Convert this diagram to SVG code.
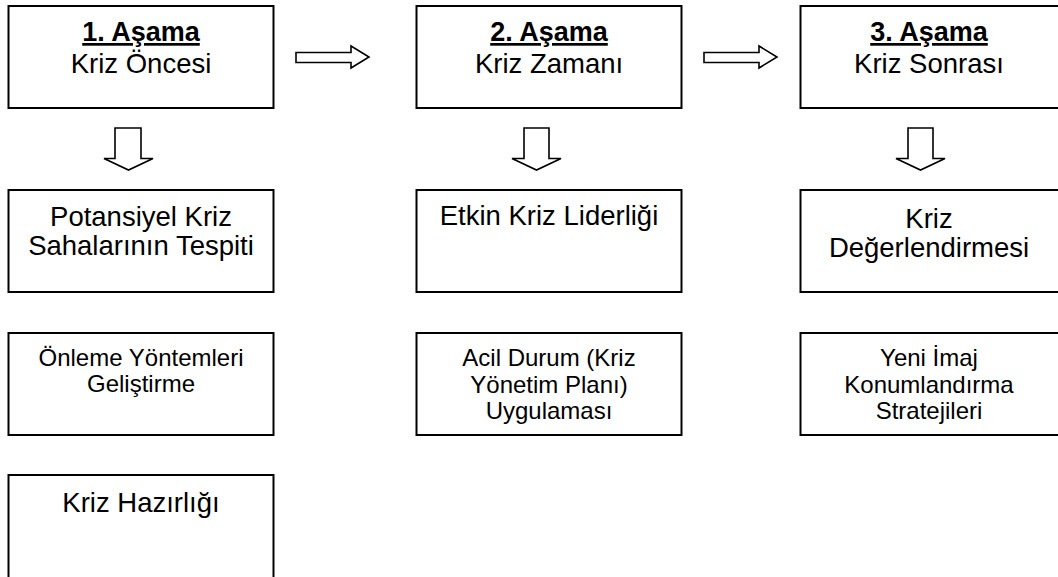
<svg xmlns="http://www.w3.org/2000/svg" width="1058" height="577" viewBox="0 0 1058 577">
<style>
.box{fill:#fff;stroke:#000;stroke-width:2}
.arr{fill:#fff;stroke:#000;stroke-width:1.6;stroke-linejoin:miter}
text{font-family:"Liberation Sans",Arial,sans-serif;fill:#000;text-anchor:middle}
.t{font-size:27.5px}
.s{font-size:24px}
.h{font-size:27px;font-weight:bold;text-decoration:underline}
</style>
<rect width="1058" height="577" fill="#fff"/>
<g id="connectors">
<path class="arr" d="M296,52.5 H351 V46 L369,57 L351,68 V62.5 H296 Z"/>
<path class="arr" d="M704,52.5 H759 V46 L777,57 L759,68 V62.5 H704 Z"/>
<path class="arr" d="M115,128 V158.5 H104 L128.5,170 L153,158.5 H141 V128 Z"/>
<path class="arr" d="M524,128 V158.5 H512 L536.5,170 L561,158.5 H549 V128 Z"/>
<path class="arr" d="M908,128 V158.5 H896 L920.5,170 L945,158.5 H933 V128 Z"/>
</g>
<g id="n1">
<rect class="box" x="8.5" y="6" width="265" height="102"/>
<text class="h" x="141" y="41">1. Aşama</text>
<text class="t" x="141" y="72.5">Kriz Öncesi</text>
</g>
<g id="n2">
<rect class="box" x="416.5" y="6" width="265" height="102"/>
<text class="h" x="549" y="41">2. Aşama</text>
<text class="t" x="549" y="72.5">Kriz Zamanı</text>
</g>
<g id="n3">
<rect class="box" x="800.5" y="6" width="265" height="102"/>
<text class="h" x="929" y="41">3. Aşama</text>
<text class="t" x="929" y="72.5">Kriz Sonrası</text>
</g>
<g id="n4">
<rect class="box" x="8.5" y="190" width="265" height="102"/>
<text class="t" x="141" y="226">Potansiyel Kriz</text>
<text class="t" x="141" y="255">Sahalarının Tespiti</text>
</g>
<g id="n5">
<rect class="box" x="416.5" y="190" width="265" height="102"/>
<text class="t" x="549" y="225">Etkin Kriz Liderliği</text>
</g>
<g id="n6">
<rect class="box" x="800.5" y="190" width="265" height="102"/>
<text class="t" x="929" y="227.5">Kriz</text>
<text class="t" x="929" y="256.5">Değerlendirmesi</text>
</g>
<g id="n7">
<rect class="box" x="8.5" y="333" width="265" height="102"/>
<text class="s" x="141" y="366">Önleme Yöntemleri</text>
<text class="s" x="141" y="392">Geliştirme</text>
</g>
<g id="n8">
<rect class="box" x="416.5" y="333" width="265" height="102"/>
<text class="s" x="549" y="366">Acil Durum (Kriz</text>
<text class="s" x="549" y="392.5">Yönetim Planı)</text>
<text class="s" x="549" y="419">Uygulaması</text>
</g>
<g id="n9">
<rect class="box" x="800.5" y="333" width="265" height="102"/>
<text class="s" x="929" y="366">Yeni İmaj</text>
<text class="s" x="929" y="392.5">Konumlandırma</text>
<text class="s" x="929" y="419">Stratejileri</text>
</g>
<g id="n10">
<rect class="box" x="8.5" y="475" width="265" height="110"/>
<text class="t" x="141" y="512">Kriz Hazırlığı</text>
</g>
</svg>
